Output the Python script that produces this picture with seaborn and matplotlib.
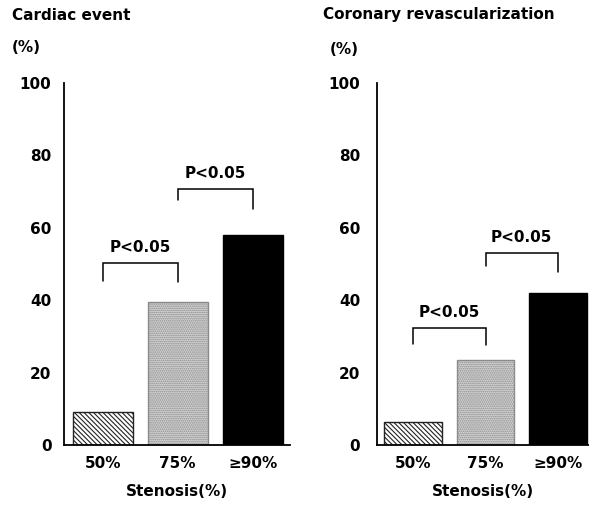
import numpy as np
import pandas as pd
import matplotlib
matplotlib.use("Agg")
import matplotlib.pyplot as plt
import seaborn as sns

# data
stenosis = ["50%", "75%", "\u226590%"]
cardiac_event = [9, 39.5, 58]
revascularization = [6.3, 23.5, 42]
y_ticks = [0, 20, 40, 60, 80, 100]

# significance brackets: (bar a, bar b, top, leg end a, leg end b, text y)
cardiac_brackets = [(0, 1, 50.3, 45.2, 45.0, 52.5), (1, 2, 70.7, 67.6, 65.3, 73.0)]
revasc_brackets = [(0, 1, 32.3, 27.8, 27.6, 34.5), (1, 2, 53.0, 49.5, 47.8, 55.2)]
p_label = "P<0.05"

sns.set_style("white")
plt.rcParams["font.family"] = ["DejaVu Sans"]
plt.rcParams["font.weight"] = "bold"
for k in ["text.color", "axes.labelcolor", "xtick.color", "ytick.color"]:
    plt.rcParams[k] = "black"
plt.rcParams["hatch.linewidth"] = 0.8

fig = plt.figure(figsize=(5.89, 5.05), dpi=100)
ax1 = fig.add_axes([64 / 589, 1 - 445 / 505, 226 / 589, 362 / 505])
ax2 = fig.add_axes([377 / 589, 1 - 445 / 505, 212 / 589, 362 / 505])


def draw_panel(ax, values, brackets, xlim, tick_dir):
    df = pd.DataFrame({"stenosis": stenosis, "value": values})
    sns.barplot(data=df, x="stenosis", y="value", ax=ax, width=0.8,
                color="white", edgecolor="black", linewidth=1.0, saturation=1)
    bars = ax.patches
    bars[0].set_facecolor("white")
    bars[0].set_edgecolor("#222222")
    bars[0].set_hatch("\\\\\\\\\\\\\\")
    bars[1].set_facecolor("#d4d4d4")
    bars[1].set_edgecolor("#8a8a8a")
    bars[1].set_hatch("........")
    bars[2].set_facecolor("black")
    for a, b, top, la, lb, ty in brackets:
        ax.plot([a, a, b, b], [la, top, top, lb], color="black", lw=1.1,
                solid_joinstyle="miter")
        ax.text((a + b) / 2, ty, p_label, ha="center", va="bottom",
                fontsize=11, fontweight="bold")
    ax.set_ylim(0, 100)
    ax.set_xlim(*xlim)
    ax.set_yticks(y_ticks)
    ax.tick_params(axis="y", direction=tick_dir, length=3, width=1,
                   labelsize=11, pad=9)
    ax.tick_params(axis="x", length=0, labelsize=11, pad=8)
    for lab in ax.get_xticklabels() + ax.get_yticklabels():
        lab.set_fontweight("bold")
    ax.set_ylabel("")
    ax.set_xlabel("Stenosis(%)", fontsize=11, fontweight="bold", labelpad=9)
    sns.despine(ax=ax)
    for s in ["left", "bottom"]:
        ax.spines[s].set_linewidth(1.3)
        ax.spines[s].set_color("black")
    ax.set_facecolor("none")


draw_panel(ax1, cardiac_event, cardiac_brackets, (-0.52, 2.5), "in")
draw_panel(ax2, revascularization, revasc_brackets, (-0.5, 2.43), "out")

fig.text(12 / 589, 1 - 15 / 505, "Cardiac event", fontsize=11,
         fontweight="bold", va="center", ha="left")
fig.text(12 / 589, 1 - 48 / 505, "(%)", fontsize=11,
         fontweight="bold", va="center", ha="left")
fig.text(323 / 589, 1 - 15 / 505, "Coronary revascularization", fontsize=11,
         fontweight="bold", va="center", ha="left")
fig.text(330 / 589, 1 - 50 / 505, "(%)", fontsize=11,
         fontweight="bold", va="center", ha="left")

fig.savefig("out.png", dpi=100)
